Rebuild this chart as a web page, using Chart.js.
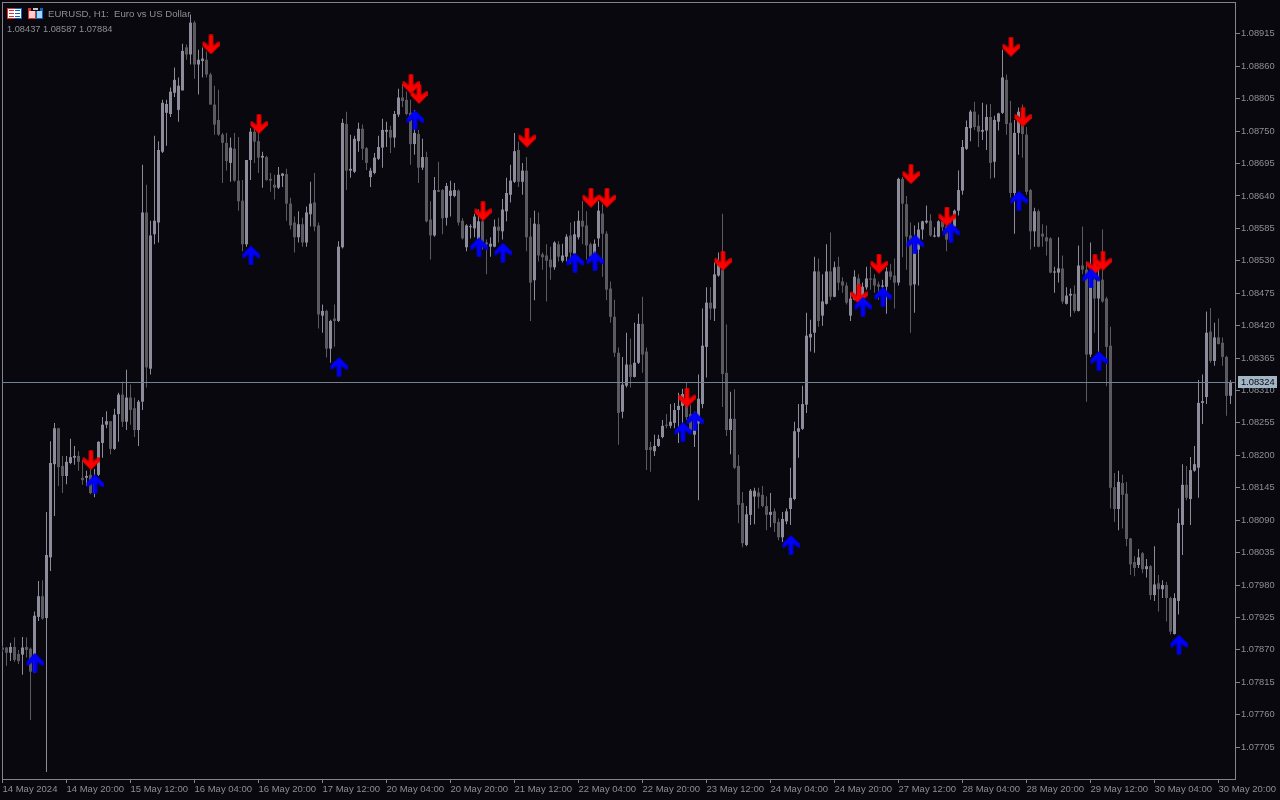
<!DOCTYPE html>
<html>
<head>
<meta charset="utf-8">
<title>EURUSD, H1</title>
<script src="https://cdn.jsdelivr.net/npm/chart.js@4/dist/chart.umd.min.js"></script>
<style>
  html, body { margin: 0; padding: 0; background: #08080e; overflow: hidden; }
  canvas { display: block; }
</style>
</head>
<body>
<canvas id="priceChart" width="1280" height="800"></canvas>
<script>
// H1 bars, oldest first
const opens = [
1.07874,1.07874,1.07865,1.07875,1.07863,1.07862,1.07875,1.07872,1.07833,1.07926,1.07961,1.07924,1.08027,1.08185,1.08246,1.08182,
1.08165,1.08187,1.08196,1.08199,1.08162,1.08162,1.08167,1.08136,1.08167,1.08221,1.08252,1.08258,1.08211,1.08270,1.08303,1.08257,
1.08298,1.08280,1.08243,1.08291,1.08612,1.08347,1.08575,1.08595,1.08715,1.08781,1.08779,1.08815,1.08786,1.08819,1.08892,1.08880,
1.08934,1.08863,1.08869,1.08871,1.08846,1.08795,1.08769,1.08744,1.08730,1.08696,1.08720,1.08666,1.08632,1.08558,1.08701,1.08749,
1.08733,1.08705,1.08706,1.08669,1.08659,1.08654,1.08674,1.08677,1.08627,1.08595,1.08570,1.08592,1.08561,1.08609,1.08629,1.08590,
1.08437,1.08445,1.08381,1.08432,1.08428,1.08553,1.08762,1.08683,1.08681,1.08733,1.08754,1.08721,1.08672,1.08679,1.08703,1.08722,
1.08749,1.08752,1.08739,1.08778,1.08807,1.08803,1.08781,1.08728,1.08745,1.08688,1.08706,1.08600,1.08573,1.08650,1.08650,1.08603,
1.08640,1.08640,1.08649,1.08598,1.08553,1.08587,1.08585,1.08566,1.08597,1.08561,1.08554,1.08554,1.08588,1.08580,1.08614,1.08642,
1.08664,1.08718,1.08664,1.08683,1.08571,1.08497,1.08592,1.08541,1.08539,1.08532,1.08519,1.08558,1.08530,1.08537,1.08573,1.08542,
1.08570,1.08598,1.08590,1.08558,1.08529,1.08568,1.08610,1.08576,1.08483,1.08435,1.08374,1.08274,1.08318,1.08354,1.08333,1.08357,
1.08423,1.08376,1.08214,1.08207,1.08216,1.08231,1.08252,1.08250,1.08255,1.08277,1.08284,1.08294,1.08270,1.08235,1.08254,1.08287,
1.08384,1.08459,1.08449,1.08505,1.08515,1.08340,1.08243,1.08262,1.08182,1.08119,1.08048,1.08099,1.08130,1.08137,1.08133,1.08114,
1.08099,1.08105,1.08087,1.08061,1.08088,1.08109,1.08126,1.08240,1.08245,1.08286,1.08400,1.08408,1.08512,1.08437,1.08457,1.08512,
1.08469,1.08520,1.08495,1.08488,1.08437,1.08464,1.08500,1.08464,1.08485,1.08500,1.08500,1.08490,1.08486,1.08486,1.08512,1.08505,
1.08493,1.08669,1.08626,1.08573,1.08490,1.08549,1.08583,1.08595,1.08598,1.08571,1.08571,1.08597,1.08588,1.08566,1.08588,1.08615,
1.08649,1.08720,1.08755,1.08783,1.08759,1.08749,1.08751,1.08774,1.08698,1.08766,1.08781,1.08837,1.08764,1.08645,1.08747,1.08781,
1.08744,1.08650,1.08580,1.08614,1.08576,1.08570,1.08568,1.08510,1.08510,1.08517,1.08457,1.08471,1.08474,1.08445,1.08522,1.08515,
1.08371,1.08498,1.08466,1.08498,1.08466,1.08386,1.08146,1.08109,1.08153,1.08135,1.08059,1.08019,1.08014,1.08034,1.08007,1.08012,
1.07963,1.07983,1.07973,1.07980,1.07958,1.07897,1.07953,1.08082,1.08150,1.08126,1.08174,1.08179,1.08289,1.08299,1.08410,1.08360,
1.08400,1.08391,1.08367,1.08301
];
const highs = [
1.07877,1.07875,1.07882,1.07891,1.07870,1.07892,1.07891,1.07874,1.07935,1.07987,1.07988,1.08104,1.08224,1.08255,1.08247,1.08199,
1.08199,1.08228,1.08216,1.08207,1.08192,1.08174,1.08177,1.08177,1.08224,1.08265,1.08275,1.08258,1.08279,1.08306,1.08325,1.08345,
1.08320,1.08298,1.08294,1.08693,1.08659,1.08598,1.08742,1.08733,1.08803,1.08803,1.08824,1.08858,1.08841,1.08898,1.08897,1.08948,
1.08937,1.08888,1.08892,1.08885,1.08849,1.08827,1.08820,1.08747,1.08747,1.08739,1.08747,1.08740,1.08667,1.08701,1.08755,1.08757,
1.08752,1.08715,1.08708,1.08679,1.08676,1.08689,1.08679,1.08686,1.08637,1.08605,1.08614,1.08603,1.08622,1.08664,1.08679,1.08595,
1.08456,1.08447,1.08430,1.08456,1.08563,1.08771,1.08783,1.08744,1.08742,1.08764,1.08761,1.08723,1.08688,1.08713,1.08742,1.08771,
1.08766,1.08759,1.08784,1.08822,1.08830,1.08817,1.08803,1.08786,1.08752,1.08737,1.08715,1.08631,1.08672,1.08698,1.08652,1.08662,
1.08666,1.08662,1.08651,1.08602,1.08592,1.08592,1.08610,1.08617,1.08603,1.08566,1.08570,1.08600,1.08603,1.08635,1.08671,1.08693,
1.08747,1.08732,1.08696,1.08706,1.08603,1.08615,1.08612,1.08544,1.08558,1.08554,1.08563,1.08563,1.08559,1.08575,1.08595,1.08597,
1.08615,1.08632,1.08614,1.08561,1.08566,1.08631,1.08626,1.08580,1.08495,1.08464,1.08383,1.08367,1.08408,1.08398,1.08425,1.08440,
1.08469,1.08383,1.08223,1.08235,1.08235,1.08260,1.08270,1.08287,1.08289,1.08306,1.08313,1.08323,1.08286,1.08274,1.08337,1.08449,
1.08485,1.08485,1.08527,1.08544,1.08610,1.08422,1.08308,1.08312,1.08201,1.08138,1.08114,1.08143,1.08145,1.08145,1.08148,1.08130,
1.08136,1.08110,1.08093,1.08104,1.08110,1.08179,1.08257,1.08287,1.08318,1.08442,1.08430,1.08537,1.08534,1.08507,1.08558,1.08578,
1.08529,1.08537,1.08502,1.08493,1.08476,1.08514,1.08507,1.08493,1.08520,1.08520,1.08507,1.08495,1.08498,1.08519,1.08525,1.08534,
1.08671,1.08672,1.08640,1.08595,1.08590,1.08595,1.08598,1.08624,1.08609,1.08587,1.08599,1.08600,1.08609,1.08600,1.08617,1.08683,
1.08735,1.08768,1.08786,1.08800,1.08778,1.08798,1.08795,1.08796,1.08776,1.08781,1.08888,1.08846,1.08801,1.08769,1.08790,1.08795,
1.08757,1.08652,1.08620,1.08617,1.08592,1.08590,1.08570,1.08520,1.08570,1.08539,1.08485,1.08483,1.08488,1.08556,1.08588,1.08529,
1.08561,1.08539,1.08515,1.08583,1.08469,1.08418,1.08170,1.08174,1.08167,1.08155,1.08060,1.08029,1.08041,1.08036,1.08024,1.08014,
1.08046,1.07997,1.07988,1.07985,1.07960,1.07966,1.08110,1.08185,1.08182,1.08197,1.08216,1.08328,1.08337,1.08444,1.08450,1.08425,
1.08432,1.08400,1.08369,1.08328
];
const lows = [
1.07867,1.07843,1.07851,1.07850,1.07846,1.07828,1.07857,1.07751,1.07831,1.07919,1.07921,1.07663,1.08004,1.08097,1.08148,1.08136,
1.08151,1.08185,1.08184,1.08174,1.08150,1.08148,1.08134,1.08129,1.08165,1.08196,1.08246,1.08202,1.08209,1.08223,1.08248,1.08243,
1.08252,1.08231,1.08216,1.08277,1.08315,1.08337,1.08558,1.08561,1.08713,1.08725,1.08774,1.08808,1.08766,1.08819,1.08871,1.08863,
1.08839,1.08812,1.08841,1.08841,1.08795,1.08744,1.08742,1.08662,1.08683,1.08664,1.08664,1.08615,1.08546,1.08554,1.08667,1.08696,
1.08679,1.08654,1.08666,1.08647,1.08634,1.08652,1.08655,1.08598,1.08583,1.08544,1.08561,1.08554,1.08554,1.08588,1.08580,1.08415,
1.08408,1.08366,1.08357,1.08384,1.08426,1.08551,1.08650,1.08671,1.08679,1.08715,1.08701,1.08684,1.08655,1.08677,1.08701,1.08688,
1.08723,1.08713,1.08722,1.08774,1.08791,1.08777,1.08693,1.08710,1.08662,1.08684,1.08595,1.08532,1.08571,1.08647,1.08575,1.08590,
1.08605,1.08638,1.08590,1.08566,1.08546,1.08568,1.08570,1.08564,1.08549,1.08507,1.08537,1.08553,1.08561,1.08566,1.08597,1.08629,
1.08662,1.08655,1.08642,1.08546,1.08428,1.08463,1.08529,1.08515,1.08461,1.08498,1.08515,1.08529,1.08527,1.08529,1.08524,1.08519,
1.08566,1.08558,1.08532,1.08529,1.08519,1.08554,1.08503,1.08463,1.08425,1.08367,1.08218,1.08263,1.08315,1.08315,1.08332,1.08355,
1.08340,1.08175,1.08172,1.08199,1.08214,1.08229,1.08246,1.08246,1.08246,1.08221,1.08226,1.08260,1.08240,1.08214,1.08124,1.08280,
1.08332,1.08430,1.08428,1.08503,1.08282,1.08233,1.08202,1.08177,1.08085,1.08044,1.08046,1.08082,1.08083,1.08110,1.08112,1.08073,
1.08078,1.08070,1.08056,1.08053,1.08083,1.08082,1.08124,1.08196,1.08243,1.08272,1.08376,1.08374,1.08418,1.08420,1.08456,1.08463,
1.08468,1.08480,1.08476,1.08456,1.08428,1.08463,1.08464,1.08442,1.08481,1.08481,1.08476,1.08464,1.08461,1.08440,1.08498,1.08449,
1.08488,1.08536,1.08515,1.08408,1.08442,1.08488,1.08566,1.08593,1.08571,1.08570,1.08570,1.08580,1.08546,1.08563,1.08583,1.08607,
1.08642,1.08718,1.08733,1.08752,1.08723,1.08735,1.08718,1.08669,1.08671,1.08751,1.08779,1.08744,1.08637,1.08576,1.08710,1.08705,
1.08642,1.08549,1.08554,1.08553,1.08554,1.08539,1.08509,1.08476,1.08493,1.08457,1.08456,1.08435,1.08442,1.08444,1.08507,1.08291,
1.08367,1.08408,1.08371,1.08459,1.08317,1.08110,1.08087,1.08073,1.08076,1.08046,1.07997,1.07995,1.08009,1.08000,1.07993,1.07955,
1.07953,1.07935,1.07958,1.07918,1.07896,1.07896,1.07930,1.08031,1.08124,1.08082,1.08172,1.08128,1.08253,1.08287,1.08357,1.08352,
1.08388,1.08352,1.08267,1.08287
];
const closes = [
1.07870,1.07865,1.07875,1.07853,1.07851,1.07874,1.07870,1.07833,1.07928,1.07961,1.07923,1.08031,1.08187,1.08246,1.08180,1.08165,
1.08189,1.08197,1.08199,1.08189,1.08158,1.08165,1.08136,1.08162,1.08223,1.08252,1.08258,1.08211,1.08269,1.08303,1.08257,1.08298,
1.08277,1.08243,1.08291,1.08612,1.08349,1.08573,1.08598,1.08718,1.08798,1.08796,1.08817,1.08837,1.08827,1.08886,1.08880,1.08934,
1.08863,1.08871,1.08873,1.08846,1.08795,1.08761,1.08744,1.08730,1.08699,1.08722,1.08666,1.08631,1.08558,1.08701,1.08749,1.08732,
1.08705,1.08708,1.08667,1.08666,1.08654,1.08676,1.08678,1.08627,1.08590,1.08570,1.08592,1.08561,1.08612,1.08627,1.08588,1.08439,
1.08445,1.08381,1.08428,1.08428,1.08554,1.08764,1.08683,1.08686,1.08737,1.08754,1.08720,1.08696,1.08683,1.08705,1.08723,1.08752,
1.08752,1.08739,1.08779,1.08807,1.08801,1.08779,1.08728,1.08747,1.08688,1.08706,1.08597,1.08573,1.08650,1.08647,1.08602,1.08657,
1.08649,1.08650,1.08595,1.08568,1.08590,1.08588,1.08605,1.08597,1.08561,1.08558,1.08559,1.08588,1.08581,1.08617,1.08645,1.08666,
1.08716,1.08664,1.08683,1.08570,1.08493,1.08593,1.08539,1.08536,1.08530,1.08519,1.08561,1.08537,1.08539,1.08571,1.08544,1.08575,
1.08598,1.08588,1.08556,1.08537,1.08559,1.08615,1.08576,1.08481,1.08435,1.08374,1.08272,1.08320,1.08354,1.08333,1.08357,1.08423,
1.08371,1.08209,1.08209,1.08216,1.08228,1.08250,1.08250,1.08257,1.08277,1.08284,1.08304,1.08265,1.08243,1.08263,1.08296,1.08386,
1.08459,1.08449,1.08507,1.08524,1.08338,1.08243,1.08262,1.08179,1.08116,1.08051,1.08100,1.08140,1.08140,1.08130,1.08114,1.08099,
1.08104,1.08085,1.08061,1.08092,1.08105,1.08128,1.08241,1.08246,1.08287,1.08403,1.08406,1.08512,1.08428,1.08461,1.08512,1.08469,
1.08519,1.08493,1.08488,1.08459,1.08466,1.08503,1.08469,1.08486,1.08500,1.08498,1.08488,1.08486,1.08488,1.08512,1.08503,1.08493,
1.08669,1.08627,1.08571,1.08488,1.08566,1.08583,1.08597,1.08598,1.08573,1.08573,1.08597,1.08587,1.08566,1.08592,1.08615,1.08650,
1.08723,1.08757,1.08783,1.08757,1.08749,1.08752,1.08774,1.08696,1.08769,1.08780,1.08841,1.08762,1.08645,1.08747,1.08783,1.08745,
1.08647,1.08580,1.08614,1.08554,1.08571,1.08563,1.08510,1.08512,1.08517,1.08461,1.08471,1.08474,1.08445,1.08522,1.08515,1.08371,
1.08510,1.08466,1.08498,1.08461,1.08384,1.08145,1.08109,1.08155,1.08133,1.08058,1.08015,1.08009,1.08027,1.08007,1.08012,1.07963,
1.07981,1.07973,1.07980,1.07958,1.07901,1.07958,1.08085,1.08150,1.08128,1.08175,1.08185,1.08289,1.08292,1.08408,1.08360,1.08400,
1.08389,1.08367,1.08301,1.08324
];

// indicator arrows: bar index and price at the middle of the arrow
const upBars = [8,23,62,84,103,119,125,143,148,170,173,197,215,220,228,237,254,272,274,294];
const upPrices = [1.07848,1.08151,1.08539,1.08350,1.08769,1.08553,1.08544,1.08527,1.08529,1.08240,1.08258,1.08048,1.08452,1.08469,1.08558,1.08578,1.08632,1.08500,1.08360,1.07879];
const downBars = [22,52,64,102,104,120,131,147,151,171,180,214,219,227,236,252,255,273,275];
const downPrices = [1.08192,1.08897,1.08762,1.08830,1.08813,1.08614,1.08739,1.08637,1.08637,1.08298,1.08530,1.08473,1.08525,1.08677,1.08605,1.08893,1.08774,1.08524,1.08530];

// axis labels
const timeTickBars = [0,16,32,48,64,80,96,112,128,144,160,176,192,208,224,240,256,272,288,304];
const timeTickLabels = ['14 May 2024','14 May 20:00','15 May 12:00','16 May 04:00','16 May 20:00','17 May 12:00','20 May 04:00','20 May 20:00','21 May 12:00','22 May 04:00','22 May 20:00','23 May 12:00','24 May 04:00','24 May 20:00','27 May 12:00','28 May 04:00','28 May 20:00','29 May 12:00','30 May 04:00','30 May 20:00'];
const priceTicks = [1.08915,1.08860,1.08805,1.08750,1.08695,1.08640,1.08585,1.08530,1.08475,1.08420,1.08365,1.08310,1.08255,1.08200,1.08145,1.08090,1.08035,1.07980,1.07925,1.07870,1.07815,1.07760,1.07705];

const currentPrice = 1.08324;
const symbolTitle = 'EURUSD, H1:  Euro vs US Dollar';
const ohlcLine = '1.08437 1.08587 1.07884';

const BG = '#08080e';
const FRAME = '#84848c';
const TEXT = '#8e8e96';
const BULL = '#8c8c9a';
const BEAR = '#5a5a60';
const FONT = '"Liberation Sans", Arial, sans-serif';

// Arrow sprite, tip at the top. Flipped for the sell arrows.
function makeArrow(color, edge, flip) {
    const c = document.createElement('canvas');
    c.width = 18;
    c.height = 20;
    const g = c.getContext('2d');
    if (flip) {
        g.translate(0, 20);
        g.scale(1, -1);
    }
    g.beginPath();
    [[9.5,0],[18,8.5],[18,12.5],[16.5,13],[11.5,9],[11.5,19.5],[7.5,19.5],[7.5,9],[2.5,13],[1,12.5],[1,8.5]]
        .forEach((p, i) => i ? g.lineTo(p[0], p[1]) : g.moveTo(p[0], p[1]));
    g.closePath();
    g.fillStyle = edge;
    g.fill();
    g.beginPath();
    [[9.5,1],[17,8.5],[17,11],[11.5,7],[11.5,19.5],[7.5,19.5],[7.5,7],[2,11],[2,8.5]]
        .forEach((p, i) => i ? g.lineTo(p[0], p[1]) : g.moveTo(p[0], p[1]));
    g.closePath();
    g.fillStyle = color;
    g.fill();
    return c;
}

// Frame, current price line and tag, header text and the two little icons
const overlay = {
    id: 'overlay',
    beforeDatasetsDraw(chart) {
        const { ctx, chartArea: a } = chart;
        ctx.save();
        ctx.strokeStyle = FRAME;
        ctx.lineWidth = 1;
        ctx.strokeRect(a.left + 0.5, a.top + 0.5, a.right - a.left, a.bottom - a.top);
        ctx.restore();
    },
    afterDraw(chart) {
        const { ctx, chartArea: a, scales } = chart;
        const y = Math.round(scales.y.getPixelForValue(currentPrice));
        ctx.save();
        ctx.fillStyle = '#74838f';
        ctx.fillRect(a.left, y, a.right - a.left, 1);
        ctx.fillStyle = '#a3b6c6';
        ctx.fillRect(1238, y - 6, 39, 12);
        ctx.fillStyle = '#08080e';
        ctx.font = '9.3px ' + FONT;
        ctx.textBaseline = 'middle';
        ctx.fillText(currentPrice.toFixed(5), 1241, y + 0.5);

        ctx.fillStyle = TEXT;
        ctx.font = '9.6px ' + FONT;
        ctx.textBaseline = 'alphabetic';
        ctx.fillText(symbolTitle, 48, 17);
        ctx.font = '9.25px ' + FONT;
        ctx.fillText(ohlcLine, 7, 32);

        // icon 1
        ctx.fillStyle = '#e03030';
        ctx.fillRect(7, 8, 8, 11);
        ctx.fillStyle = '#1060c0';
        ctx.fillRect(15, 8, 7, 11);
        ctx.fillStyle = '#ffffff';
        ctx.fillRect(8, 9, 13, 9);
        ctx.fillStyle = '#e03030';
        ctx.fillRect(9, 10, 5, 1);
        ctx.fillRect(9, 13, 5, 1);
        ctx.fillRect(9, 16, 5, 1);
        ctx.fillStyle = '#1060c0';
        ctx.fillRect(15, 10, 5, 1);
        ctx.fillRect(15, 13, 5, 1);
        ctx.fillRect(15, 16, 5, 1);
        // icon 2
        ctx.fillStyle = '#e03030';
        ctx.fillRect(28, 8, 8, 11);
        ctx.fillStyle = '#1060c0';
        ctx.fillRect(36, 8, 7, 11);
        ctx.fillStyle = '#ffd0d0';
        ctx.fillRect(29, 11, 6, 7);
        ctx.fillStyle = '#a0d8ff';
        ctx.fillRect(37, 11, 5, 7);
        ctx.fillStyle = BG;
        ctx.fillRect(31, 7, 9, 4);
        ctx.fillStyle = '#c8c8c8';
        ctx.fillRect(33, 8, 5, 2);
        ctx.restore();
    }
};

const barColors = closes.map((c, i) => (c >= opens[i] ? BULL : BEAR));

new Chart(document.getElementById('priceChart'), {
    data: {
        datasets: [
            {
                type: 'line',
                order: 0,
                showLine: false,
                pointStyle: makeArrow('#0000ff', '#0000d8', false),
                data: upBars.map((b, i) => ({ x: b, y: upPrices[i] }))
            },
            {
                type: 'line',
                order: 0,
                showLine: false,
                pointStyle: makeArrow('#ff0000', '#d80000', true),
                data: downBars.map((b, i) => ({ x: b, y: downPrices[i] }))
            },
            {
                type: 'bar',
                order: 1,
                grouped: false,
                barThickness: 3,
                minBarLength: 1,
                inflateAmount: 0,
                backgroundColor: barColors,
                data: opens.map((o, i) => ({ x: i, y: [o, closes[i]] }))
            },
            {
                type: 'bar',
                order: 2,
                grouped: false,
                barThickness: 1,
                inflateAmount: 0,
                backgroundColor: barColors,
                data: lows.map((l, i) => ({ x: i, y: [l, highs[i]] }))
            }
        ]
    },
    options: {
        responsive: false,
        animation: false,
        events: [],
        layout: { autoPadding: false, padding: { left: 2, top: 2, right: 0, bottom: 0 } },
        plugins: { legend: { display: false }, tooltip: { enabled: false } },
        scales: {
            x: {
                type: 'linear',
                offset: false,
                min: -0.125,
                max: 308.125,
                afterFit(scale) {
                    scale.height = 21;
                    scale.paddingLeft = 0;
                    scale.paddingRight = 0;
                },
                afterBuildTicks(scale) { scale.ticks = timeTickBars.map(v => ({ value: v })); },
                grid: { offset: false, drawOnChartArea: false, color: FRAME, tickLength: 4 },
                border: { color: FRAME },
                ticks: {
                    autoSkip: false,
                    maxRotation: 0,
                    align: 'start',
                    padding: 1,
                    color: TEXT,
                    font: { family: FONT, size: 9.5 },
                    callback: v => timeTickLabels[timeTickBars.indexOf(v)]
                }
            },
            y: {
                type: 'linear',
                position: 'right',
                min: 1.07651,
                max: 1.08969,
                afterFit(scale) {
                    scale.width = 45;
                    scale.paddingTop = 0;
                    scale.paddingBottom = 0;
                },
                afterBuildTicks(scale) { scale.ticks = priceTicks.map(v => ({ value: v })); },
                grid: { drawOnChartArea: false, color: FRAME, tickLength: 5 },
                border: { color: FRAME },
                ticks: {
                    autoSkip: false,
                    padding: 1,
                    color: TEXT,
                    font: { family: FONT, size: 9.3 },
                    callback: v => v.toFixed(5)
                }
            }
        }
    },
    plugins: [overlay]
});
</script>
</body>
</html>
